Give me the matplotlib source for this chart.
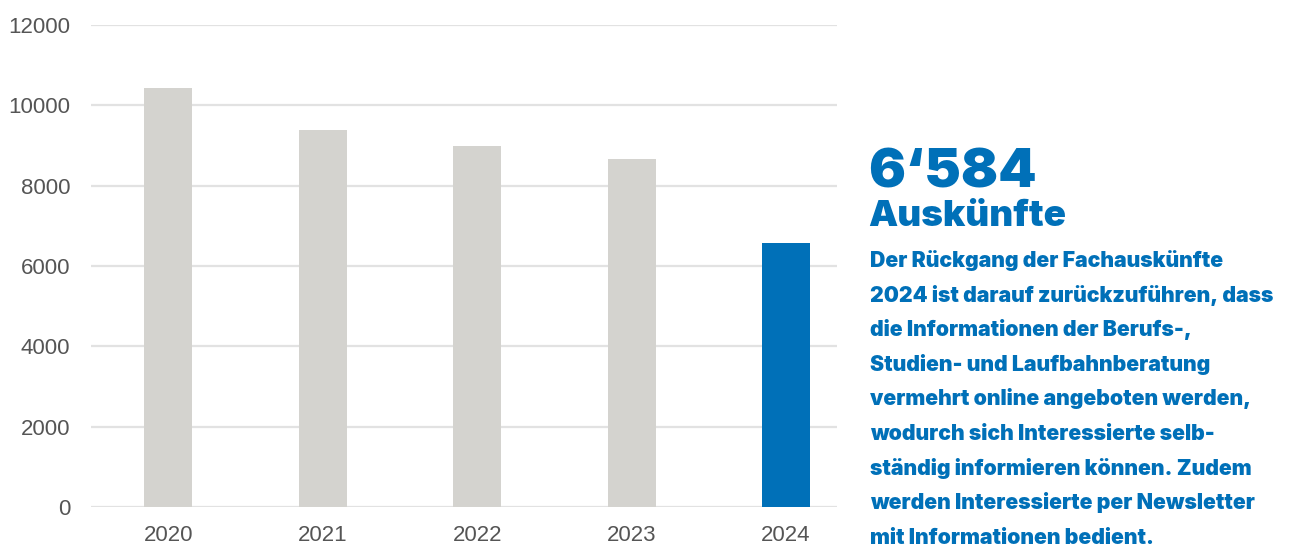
import matplotlib
matplotlib.use("Agg")
import matplotlib.pyplot as plt

years = ["2020", "2021", "2022", "2023", "2024"]
values = [10430, 9390, 8990, 8660, 6584]
bar_colors = ["#D4D3CF", "#D4D3CF", "#D4D3CF", "#D4D3CF", "#0070B8"]
y_ticks = [0, 2000, 4000, 6000, 8000, 10000, 12000]

headline = "6‘584"
subhead = "Auskünfte"
body_lines = [
    "Der Rückgang der Fachauskünfte",
    "2024 ist darauf zurückzuführen, dass",
    "die Informationen der Berufs-,",
    "Studien- und Laufbahnberatung",
    "vermehrt online angeboten werden,",
    "wodurch sich Interessierte selb-",
    "ständig informieren können. Zudem",
    "werden Interessierte per Newsletter",
    "mit Informationen bedient.",
]

W, H = 1298, 545
fig = plt.figure(figsize=(W / 100, H / 100), dpi=100)
ax = fig.add_axes([91 / W, 1 - 507 / H, (837 - 91) / W, (507 - 25) / H])

x = list(range(len(years)))
ax.bar(x, values, width=0.31, color=bar_colors, zorder=3)
ax.set_xlim(-0.5, 4.33)
ax.set_ylim(0, 12000)
ax.set_yticks(y_ticks)
ax.set_yticklabels([str(v) for v in y_ticks])
ax.set_xticks(x)
ax.set_xticklabels(years)
ax.yaxis.grid(True, color="#E2E2E2", linewidth=1.6, zorder=0)
ax.set_axisbelow(True)
for s in ax.spines.values():
    s.set_visible(False)
ax.tick_params(axis="both", length=0, labelsize=16, labelcolor="#555555")
ax.tick_params(axis="y", pad=15)
ax.tick_params(axis="x", pad=13)
for lab in ax.get_xticklabels() + ax.get_yticklabels():
    lab.set_family("Liberation Sans")

blue = "#0070B8"
fx = 868 / W
fig.text(fx, 1 - 187 / H, headline, fontsize=39.5, fontweight="black", color=blue,
         family="Inter", va="baseline", ha="left")
fig.text(fx, 1 - 226 / H, subhead, fontsize=26.5, fontweight="black", color=blue,
         family="Inter", va="baseline", ha="left")
for i, line in enumerate(body_lines):
    fig.text(870 / W, 1 - (267 + i * 34.6) / H, line, fontsize=15.3, fontweight="black",
             color=blue, family="Inter", va="baseline", ha="left")

fig.savefig("out.png", dpi=100)
